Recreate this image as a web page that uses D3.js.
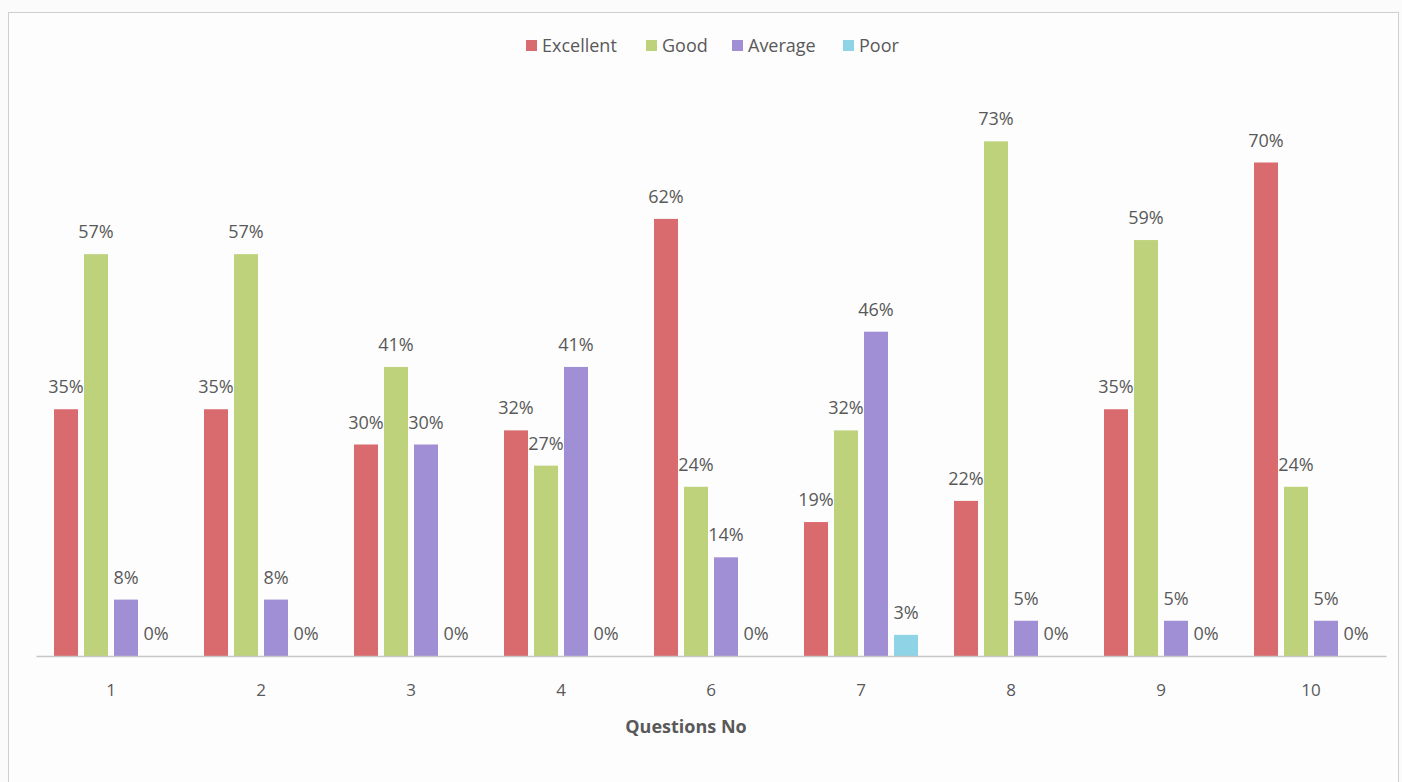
<!DOCTYPE html>
<html>
<head>
<meta charset="utf-8">
<script src="https://cdnjs.cloudflare.com/ajax/libs/d3/7.8.5/d3.min.js"></script>
<style>
  body { margin: 0; background: #fbfbfb; }
  text { font-family: "Open Sans", sans-serif; }
</style>
</head>
<body>
<div id="chart"></div>
<script>
// data
var questions = ["1", "2", "3", "4", "6", "7", "8", "9", "10"];
var series = ["Excellent", "Good", "Average", "Poor"];
var excellent = [35, 35, 30, 32, 62, 19, 22, 35, 70];
var good = [57, 57, 41, 27, 24, 32, 73, 59, 24];
var average = [8, 8, 30, 41, 14, 46, 5, 5, 5];
var poor = [0, 0, 0, 0, 0, 3, 0, 0, 0];
var colors = ["#d96a6d", "#bed27b", "#a18fd5", "#8fd3e6"];

var values = [excellent, good, average, poor];

var W = 1402, H = 782;
var svg = d3.select("#chart").append("svg")
    .attr("width", W)
    .attr("height", H);

// chart frame
svg.append("rect")
    .attr("x", 8.5).attr("y", 12.5)
    .attr("width", 1390).attr("height", 790)
    .attr("fill", "#fdfdfd")
    .attr("stroke", "#cfcfcf");

var x0 = d3.scaleBand().domain(questions)
    .range([36, 1386]).paddingInner(0.2).paddingOuter(0.1);
var x1 = d3.scaleBand().domain(series)
    .range([0, x0.bandwidth()]).paddingInner(0.2).paddingOuter(0.1);
var y = d3.scaleLinear().domain([0, 80]).range([656, 92]);

var rows = [];
questions.forEach(function(q, i) {
  series.forEach(function(s, j) {
    rows.push({q: q, s: s, v: values[j][i], c: colors[j]});
  });
});

svg.selectAll("rect.bar").data(rows).enter().append("rect")
    .attr("class", "bar")
    .attr("x", function(d) { return x0(d.q) + x1(d.s); })
    .attr("y", function(d) { return y(d.v); })
    .attr("width", x1.bandwidth())
    .attr("height", function(d) { return y(0) - y(d.v); })
    .attr("fill", function(d) { return d.c; });

svg.selectAll("text.lbl").data(rows).enter().append("text")
    .attr("class", "lbl")
    .attr("x", function(d) { return x0(d.q) + x1(d.s) + x1.bandwidth() / 2; })
    .attr("y", function(d) { return y(d.v) - 16; })
    .attr("text-anchor", "middle")
    .attr("font-size", 18)
    .attr("fill", "#595959")
    .text(function(d) { return d.v + "%"; });

// x axis
var xAxis = svg.append("g")
    .attr("transform", "translate(0," + y(0) + ")")
    .call(d3.axisBottom(d3.scaleBand().domain(questions).range([36, 1386])).tickSize(0).tickPadding(28));
xAxis.select(".domain").attr("stroke", "#c8c8c8").attr("stroke-width", 1.5);
xAxis.selectAll("text")
    .attr("font-size", 17)
    .attr("fill", "#595959")
    .style("font-family", "'Open Sans', sans-serif");

svg.append("text")
    .attr("x", 686).attr("y", 733)
    .attr("text-anchor", "middle")
    .attr("font-size", 18)
    .attr("font-weight", "bold")
    .attr("fill", "#595959")
    .text("Questions No");

// legend
var legendX = [526, 646, 732, 843];
var legend = svg.selectAll("g.leg").data(series).enter().append("g")
    .attr("class", "leg")
    .attr("transform", function(d, i) { return "translate(" + legendX[i] + ",46)"; });
legend.append("rect")
    .attr("x", 0).attr("y", -6)
    .attr("width", 11).attr("height", 11)
    .attr("fill", function(d, i) { return colors[i]; });
legend.append("text")
    .attr("x", 16).attr("y", 6)
    .attr("font-size", 18)
    .attr("fill", "#595959")
    .text(function(d) { return d; });
</script>
</body>
</html>
